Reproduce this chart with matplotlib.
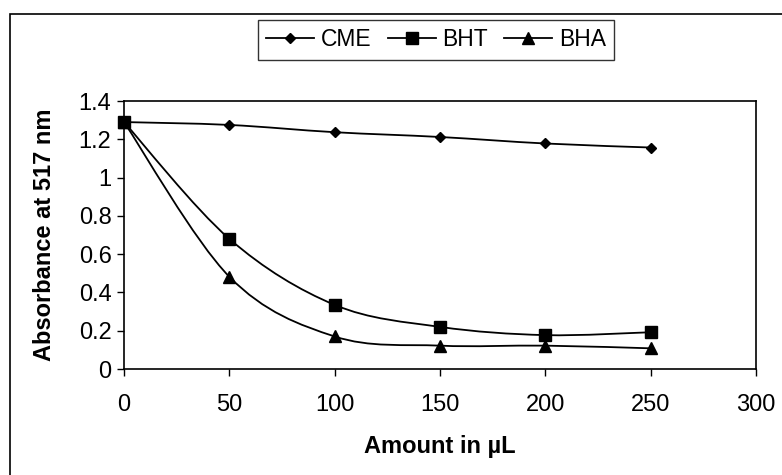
import numpy as np
import matplotlib
matplotlib.use("Agg")
import matplotlib.pyplot as plt
from matplotlib.path import Path
from matplotlib.patches import PathPatch, Rectangle
from matplotlib.lines import Line2D

plt.rcParams['font.family'] = ['Liberation Sans', 'DejaVu Sans']

# dados
amount = [0, 50, 100, 150, 200, 250]
cme = [1.29, 1.275, 1.237, 1.212, 1.178, 1.157]
bht = [1.29, 0.68, 0.335, 0.22, 0.177, 0.192]
bha = [1.29, 0.482, 0.17, 0.122, 0.122, 0.108]

series_names = ['CME', 'BHT', 'BHA']
series_vals = [cme, bht, bha]
series_markers = ['D', 's', '^']
series_msize = [5, 8, 9]


# curva suavizada (estilo Excel) via Bezier, so para o traçado da linha
def smooth_path(xs, ys):
    pts = np.column_stack([xs, ys]).astype(float)
    verts = [pts[0]]
    codes = [Path.MOVETO]
    n = len(pts)
    for i in range(n - 1):
        p0 = pts[i - 1] if i > 0 else pts[i]
        p1 = pts[i]
        p2 = pts[i + 1]
        p3 = pts[i + 2] if i + 2 < n else pts[i + 1]
        c1 = p1 + (p2 - p0) / 6.0
        c2 = p2 - (p3 - p1) / 6.0
        verts += [c1, c2, p2]
        codes += [Path.CURVE4] * 3
    return Path(verts, codes)


fig = plt.figure(figsize=(7.82, 4.75), dpi=100)
ax = fig.add_axes([124 / 782, 1 - 369 / 475, (756 - 124) / 782, (369 - 101) / 475])

for name, vals, mk, ms in zip(series_names, series_vals, series_markers, series_msize):
    ax.add_patch(PathPatch(smooth_path(amount, vals), fill=False, ec='black', lw=1.3, zorder=2))
    ax.plot(amount, vals, linestyle='none', marker=mk, ms=ms, color='black', zorder=3, clip_on=False)

ax.set_xlim(0, 300)
ax.set_ylim(0, 1.4)
ax.set_xticks(np.arange(0, 301, 50))
ax.set_yticks(np.arange(0, 1.41, 0.2))
ax.set_yticklabels(['0', '0.2', '0.4', '0.6', '0.8', '1', '1.2', '1.4'])
ax.tick_params(direction='out', length=5, width=1, labelsize=17)
ax.tick_params(axis='x', pad=13)
ax.tick_params(axis='y', pad=4)
for sp in ax.spines.values():
    sp.set_linewidth(1.2)
    sp.set_color('black')

ax.set_xlabel('Amount in µL', fontsize=17, fontweight='bold', labelpad=14)
ax.set_ylabel('Absorbance at 517 nm', fontsize=17, fontweight='bold', va='center')
ax.yaxis.set_label_coords((45 - 124) / 632, 0.5)

handles = [Line2D([], [], color='black', lw=1.3, marker=m, ms=s)
           for m, s in zip(series_markers, series_msize)]
leg = fig.legend(handles, series_names, loc='center', bbox_to_anchor=(436 / 782, 1 - 40 / 475),
                 ncol=3, fontsize=16.5, frameon=True, fancybox=False, edgecolor='black',
                 handlelength=2.1, handletextpad=0.3, columnspacing=0.7, borderpad=0.35)
leg.get_frame().set_linewidth(1.0)

# borda externa do gráfico
fig.add_artist(Rectangle((10 / 782, -0.05), 1.1, 1 - 14 / 475 + 0.05, transform=fig.transFigure,
                         fill=False, ec='black', lw=1.2))

fig.savefig('out.png', dpi=100)
